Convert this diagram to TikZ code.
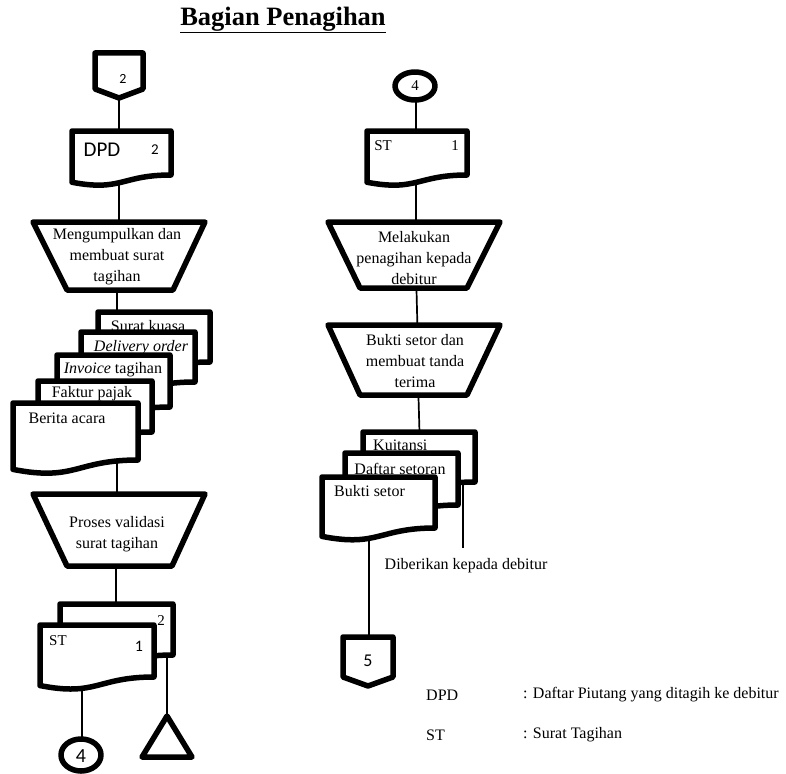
\documentclass[tikz,border=0pt]{standalone}
\usepackage{fontspec}
\setmainfont{Liberation Serif}
\newfontfamily\calfont{Carlito}
\usetikzlibrary{calc}
\tikzset{
  shp/.style={draw=black, line width=5.5pt, fill=white, line join=round},
  conn/.style={draw=black, line width=1.7pt},
  txt/.style={font=\fontsize{16}{21}\selectfont, align=center, inner sep=0pt},
  sanslbl/.style={inner sep=0pt, font=\calfont\fontsize{#1}{#1}\selectfont},
  seriflbl/.style={inner sep=0pt, font=\fontsize{#1}{#1}\selectfont},
}
% document shape: x1,y1 (top left), x2, y2 (right bottom)
\newcommand{\docshp}[4]{%
  \path[shp] (#1,#2) -- (#3,#2) -- (#3,#4)
    .. controls ({(#1+#3)/2},#4) and ({(#1+#3)/2},{#2+1.3803*(#4-#2)})
    .. (#1,{#2+1.1646*(#4-#2)}) -- cycle;}
% manual operation: top y, top x1, top x2, bottom y, bottom x1, bottom x2
\newcommand{\mantrap}[6]{%
  \path[shp] (#2,#1) -- (#3,#1) -- (#6,#4) -- (#5,#4) -- cycle;}
% off-page connector: x1, x2, top, side bottom, point
\newcommand{\offpg}[5]{%
  \path[shp] (#1,#3) -- (#2,#3) -- (#2,#4) -- ({(#1+#2)/2},#5) -- (#1,#4) -- cycle;}
\begin{document}
\begin{tikzpicture}[x=1pt,y=-1pt]
\useasboundingbox (0,0) rectangle (786,773);

% ---------- connection points ----------
\coordinate (a0) at (119,80);
\coordinate (a1) at (119,150);
\coordinate (a2) at (119,250);
\coordinate (a3) at (117,250);
\coordinate (a4) at (117,330);
\coordinate (a5) at (117,430);
\coordinate (a6) at (117,530);
\coordinate (a7) at (116,530);
\coordinate (a8) at (116,620);
\coordinate (a9) at (82,650);
\coordinate (a10) at (82,755);
\coordinate (a11) at (167,630);
\coordinate (a12) at (167,740);

\coordinate (b0) at (416,86);
\coordinate (b1) at (416,150);
\coordinate (b2) at (416,250);
\coordinate (b3) at (416,270);
\coordinate (b4) at (418,350);
\coordinate (b5) at (418,380);
\coordinate (b6) at (420,450);
\coordinate (b7) at (463,470);
\coordinate (b8) at (463,548);
\coordinate (b9) at (369,510);
\coordinate (b10) at (369,660);

% ---------- connectors ----------
\draw[conn] (a0) -- (a1);
\draw[conn] (a1) -- (a2);
\draw[conn] (a3) -- (a4);
\draw[conn] (a5) -- (a6);
\draw[conn] (a7) -- (a8);
\draw[conn] (a9) -- (a10);
\draw[conn] (a11) -- (a12);
\draw[conn] (b0) -- (b1);
\draw[conn] (b1) -- (b2);
\draw[conn] (b3) -- (b4);
\draw[conn] (b5) -- (b6);
\draw[conn] (b7) -- (b8);
\draw[conn] (b9) -- (b10);

% ---------- title ----------
\node[inner sep=0pt, font=\bfseries\fontsize{26.5}{26.5}\selectfont] (title) at (283,20) {\underline{Bagian Penagihan}};

% ---------- left column ----------
\offpg{95}{143}{53}{89}{98}
\node[sanslbl=14] (l2) at (123,79) {2};

\docshp{72}{131}{171}{175}
\node[sanslbl=21] (ldpd) at (102,150) {DPD};
\node[sanslbl=15] (ldpd2) at (155,150) {2};

\mantrap{222}{33}{205}{290}{67}{173}
\node[txt] (lt1) at (117,257) {Mengumpulkan dan\\membuat surat\\tagihan};

\docshp{98}{312}{210}{362}
\node[txt] (lsk) at (148,326) {Surat kuasa};
\docshp{81}{332}{195}{382}
\node[txt] (ldo) at (141,348) {\itshape Delivery order};
\docshp{57}{355}{170}{407}
\node[txt] (linv) at (113,370) {\textit{Invoice} tagihan};
\docshp{38}{381}{152}{432}
\node[txt] (lfp) at (92,394) {Faktur pajak};
\docshp{13}{403}{138}{460}
\node[txt] (lba) at (67,418) {Berita acara};

\mantrap{494}{33}{205}{566}{67}{172}
\node[txt] (lt2) at (117,534) {Proses validasi\\surat tagihan};

\docshp{60}{604}{173}{655}
\node[seriflbl=15] (lst2) at (161,621) {2};
\docshp{40}{625}{154}{677}
\node[seriflbl=15] (lst) at (58,641) {ST};
\node[sanslbl=16] (lst1) at (139,646) {1};

\draw[shp] (81,755) ellipse [x radius=20, y radius=16];
\node[sanslbl=20] (l4) at (81,756) {4};

\path[shp] (167,716) -- (192,757) -- (142,757) -- cycle;

% ---------- right column ----------
\draw[shp] (415,86) ellipse [x radius=20, y radius=14];
\node[seriflbl=15] (r4) at (415,86) {4};

\docshp{367}{131}{467}{175}
\node[seriflbl=15] (rst) at (383,146) {ST};
\node[seriflbl=15] (rst1) at (455,146) {1};

\mantrap{222}{328}{500}{288}{360}{467}
\node[txt] (rt1) at (414,258) {Melakukan\\penagihan kepada\\debitur};

\mantrap{325}{328}{500}{395}{360}{467}
\node[txt] (rt2) at (415,361) {Bukti setor dan\\membuat tanda\\terima};

\docshp{363}{432}{475}{482}
\node[txt, anchor=west] (rku) at (373,445) {Kuitansi};
\docshp{345}{453}{458}{505}
\node[txt] (rds) at (400,469) {Daftar setoran};
\docshp{322}{477}{435}{528}
\node[txt, anchor=west] (rbs) at (334,491) {Bukti setor};

\node[txt] (rdk) at (466,566) {Diberikan kepada debitur};

\offpg{343}{393}{637}{677}{686}
\node[sanslbl=18] (r5) at (368,661) {5};

% ---------- legend ----------
\node[txt, anchor=west] (g1) at (426,695) {DPD};
\node[txt, anchor=west] (g1d) at (523,695) {: Daftar Piutang yang ditagih ke debitur};
\node[txt, anchor=west] (g2) at (426,735) {ST};
\node[txt, anchor=west] (g2d) at (523,735) {: Surat Tagihan};
\end{tikzpicture}
\end{document}
